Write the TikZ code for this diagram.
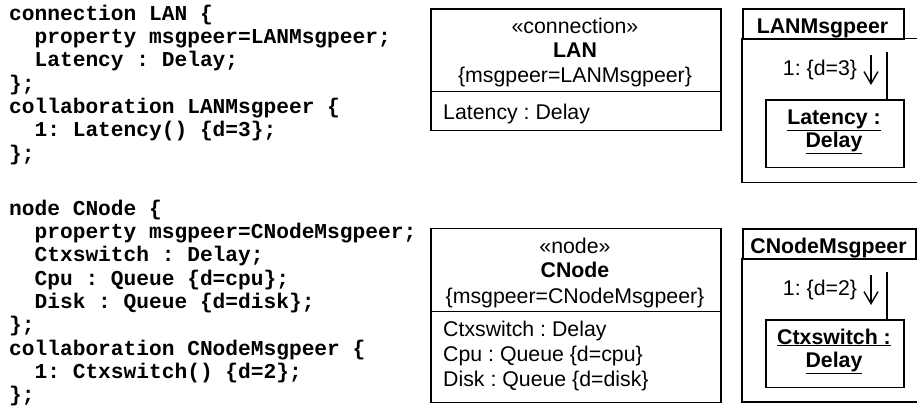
\documentclass[tikz,border=0pt]{standalone}
\usepackage{fontspec}
\setmainfont{Liberation Sans}
\newfontfamily\codefamily{Liberation Mono}
\usetikzlibrary{arrows.meta,positioning}

\newcommand{\indt}{\phantom{xx}}

\tikzset{
  codeblock/.style={anchor=base west, inner sep=0pt, align=left,
    font=\codefamily\bfseries\frenchspacing\fontsize{21.2}{23.35}\selectfont},
  txt/.style={anchor=base, inner sep=0pt, font=\frenchspacing\fontsize{21.3}{25}\selectfont},
  boldtxt/.style={txt, font=\frenchspacing\fontsize{21.3}{25}\selectfont\bfseries},
  boxline/.style={draw, line width=1.5pt},
  umlbox/.style={boxline, anchor=north west, inner sep=0pt},
  msgarrow/.style={line width=1.4pt, -{Straight Barb[length=12pt,width=14pt]}}
}

\begin{document}
\begin{tikzpicture}[x=1pt, y=-1pt]
  \useasboundingbox (0,0) rectangle (917,412);

  % source text (anchored at the last line)
  \node[codeblock](code1) at (9,160.1){connection LAN \{\\
    \indt property msgpeer=LANMsgpeer;\\
    \indt Latency : Delay;\\
    \};\\
    collaboration LANMsgpeer \{\\
    \indt 1: Latency() \{d=3\};\\
    \};};
  \node[codeblock](code2) at (9,401.8){node CNode \{\\
    \indt property msgpeer=CNodeMsgpeer;\\
    \indt Ctxswitch : Delay;\\
    \indt Cpu : Queue \{d=cpu\};\\
    \indt Disk : Queue \{d=disk\};\\
    \};\\
    collaboration CNodeMsgpeer \{\\
    \indt 1: Ctxswitch() \{d=2\};\\
    \};};

  % LAN class
  \node[umlbox, minimum width=290pt, minimum height=121.5pt](lan) at (430,8.3){};
  \draw[boxline] (lan.west |- 0,91.7) -- (lan.east |- 0,91.7);
  \node[txt](lanster) at (575,33.5){«connection»};
  \node[boldtxt](lanname) at (575,58){LAN};
  \node[txt](lanprop) at (575,82.5){\{msgpeer=LANMsgpeer\}};
  \node[txt, anchor=base west](lanattr) at (443,119.5){Latency : Delay};

  % LANMsgpeer collaboration
  \draw[boxline] (917,38.3) -- (742,38.3) -- (742,182.7) -- (917,182.7);
  \node[umlbox, minimum width=161pt, minimum height=30pt](lantab) at (742,8.3){};
  \node[boldtxt](lantitle) at (822.5,33.5){LANMsgpeer};
  \node[umlbox, minimum width=138pt, minimum height=67.7pt](lanobj) at (765,99){};
  \node[boldtxt](lanobj1) at (834,124){\underline{Latency :}};
  \node[boldtxt](lanobj2) at (834,147.5){\underline{Delay}};
  \coordinate (lanlink) at (887,51.7);
  \draw[boxline] (lanlink) -- (lanlink |- lanobj.north);
  \node[txt](lanmsg) at (820,75){1: \{d=3\}};
  \coordinate (lanarr) at (871,55);
  \draw[msgarrow] (lanarr) -- ++(0,30);

  % CNode class
  \node[umlbox, minimum width=290pt, minimum height=174pt](cn) at (430,227.7){};
  \draw[boxline] (cn.west |- 0,311.7) -- (cn.east |- 0,311.7);
  \node[txt](cnster) at (575,253.3){«node»};
  \node[boldtxt](cnname) at (575,277.5){CNode};
  \node[txt](cnprop) at (575,303){\{msgpeer=CNodeMsgpeer\}};
  \node[txt, anchor=base west](cnattr1) at (443,336.5){Ctxswitch : Delay};
  \node[txt, anchor=base west](cnattr2) at (443,361.7){Cpu : Queue \{d=cpu\}};
  \node[txt, anchor=base west](cnattr3) at (443,386.7){Disk : Queue \{d=disk\}};

  % CNodeMsgpeer collaboration
  \draw[boxline] (917,258.8) -- (742,258.8) -- (742,402.2) -- (917,402.2);
  \node[umlbox, minimum width=173pt, minimum height=30.5pt](cntab) at (742,228.3){};
  \node[boldtxt](cntitle) at (828.5,253.5){CNodeMsgpeer};
  \node[umlbox, minimum width=138pt, minimum height=67.7pt](cnobj) at (765,319){};
  \node[boldtxt](cnobj1) at (834,344){\underline{Ctxswitch :}};
  \node[boldtxt](cnobj2) at (834,367.5){\underline{Delay}};
  \coordinate (cnlink) at (887,271.7);
  \draw[boxline] (cnlink) -- (cnlink |- cnobj.north);
  \node[txt](cnmsg) at (820,295){1: \{d=2\}};
  \coordinate (cnarr) at (871,275);
  \draw[msgarrow] (cnarr) -- ++(0,30);
\end{tikzpicture}
\end{document}
